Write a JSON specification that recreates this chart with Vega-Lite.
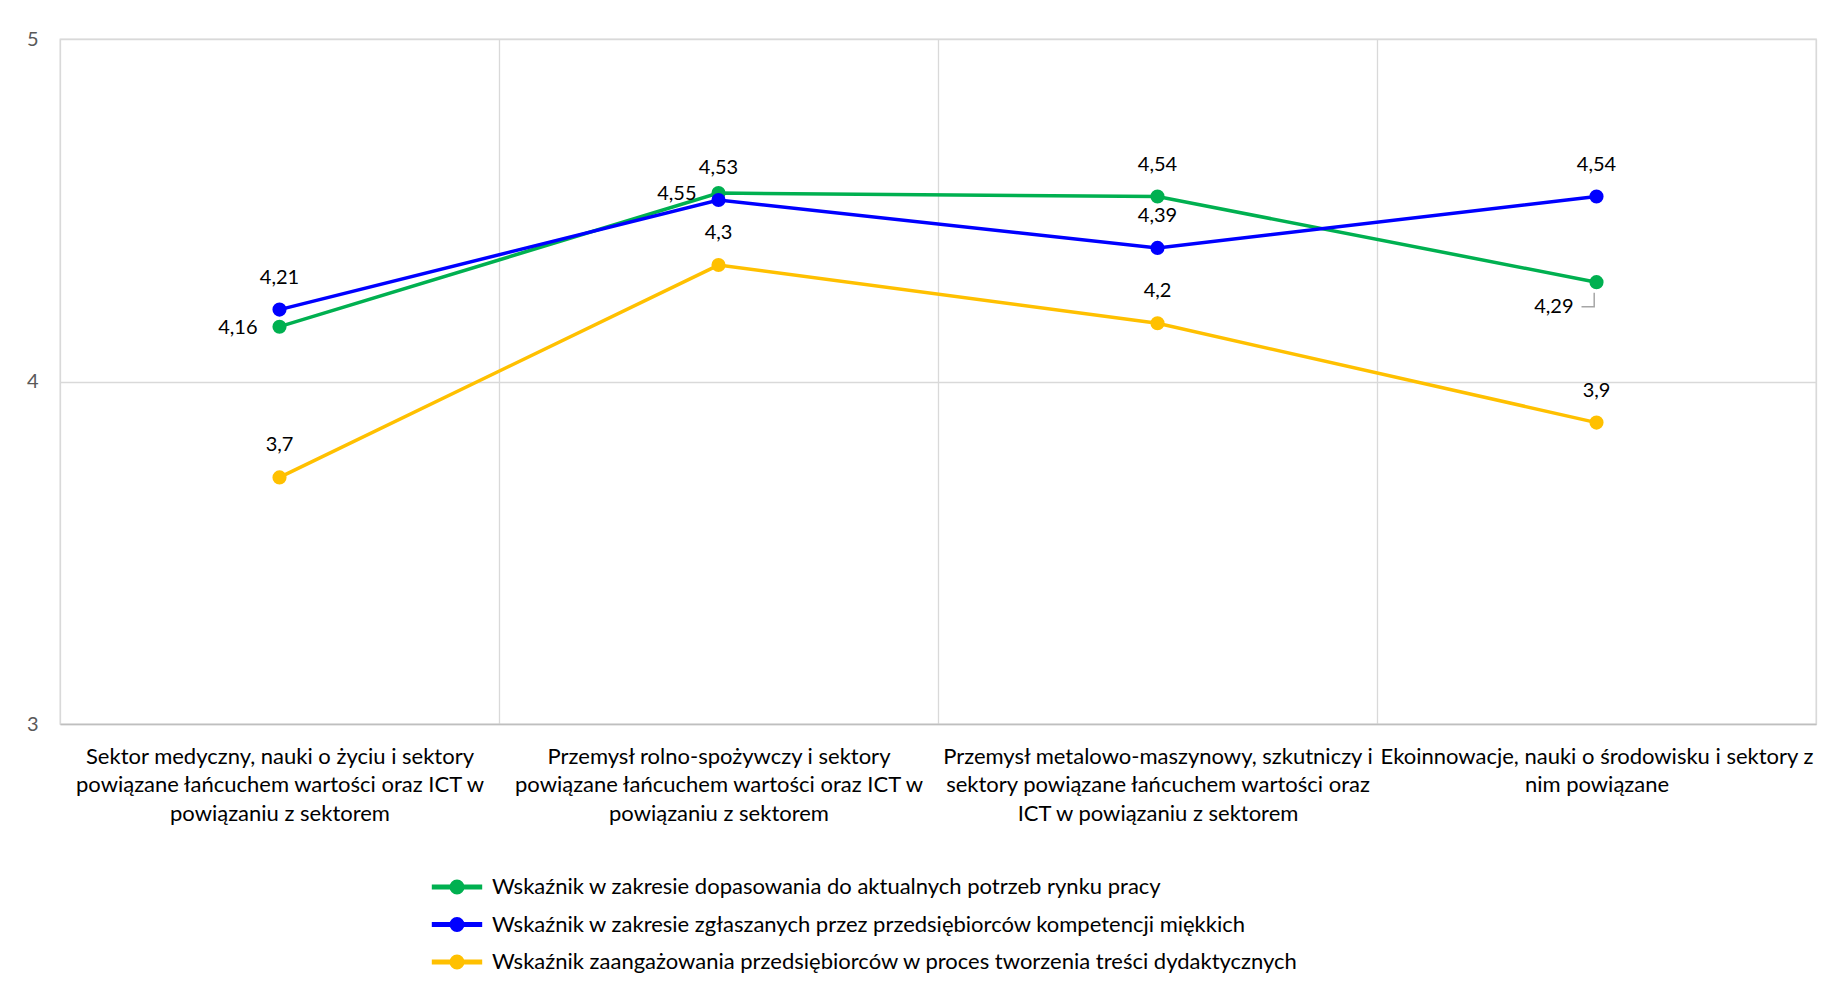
{
  "$schema": "https://vega.github.io/schema/vega-lite/v6.json",
  "width": 1756,
  "height": 685,
  "autosize": {"type": "none"},
  "padding": {"left": 60, "top": 39, "right": 13, "bottom": 261},
  "background": "white",
  "config": {"font": "Lato", "view": {"stroke": "#d9d9d9", "strokeWidth": 1.3}},
  "data": {
    "values": [
      {"sector": "Sektor medyczny, nauki o życiu i sektory powiązane łańcuchem wartości oraz ICT w powiązaniu z sektorem", "series": "Wskaźnik w zakresie dopasowania do aktualnych potrzeb rynku pracy", "value": 4.16, "label": "4,16"},
      {"sector": "Przemysł rolno-spożywczy i sektory powiązane łańcuchem wartości oraz ICT w powiązaniu z sektorem", "series": "Wskaźnik w zakresie dopasowania do aktualnych potrzeb rynku pracy", "value": 4.55, "label": "4,55"},
      {"sector": "Przemysł metalowo-maszynowy, szkutniczy i sektory powiązane łańcuchem wartości oraz ICT w powiązaniu z sektorem", "series": "Wskaźnik w zakresie dopasowania do aktualnych potrzeb rynku pracy", "value": 4.54, "label": "4,54"},
      {"sector": "Ekoinnowacje, nauki o środowisku i sektory z nim powiązane", "series": "Wskaźnik w zakresie dopasowania do aktualnych potrzeb rynku pracy", "value": 4.29, "label": "4,29"},
      {"sector": "Sektor medyczny, nauki o życiu i sektory powiązane łańcuchem wartości oraz ICT w powiązaniu z sektorem", "series": "Wskaźnik w zakresie zgłaszanych przez przedsiębiorców kompetencji miękkich", "value": 4.21, "label": "4,21"},
      {"sector": "Przemysł rolno-spożywczy i sektory powiązane łańcuchem wartości oraz ICT w powiązaniu z sektorem", "series": "Wskaźnik w zakresie zgłaszanych przez przedsiębiorców kompetencji miękkich", "value": 4.53, "label": "4,53"},
      {"sector": "Przemysł metalowo-maszynowy, szkutniczy i sektory powiązane łańcuchem wartości oraz ICT w powiązaniu z sektorem", "series": "Wskaźnik w zakresie zgłaszanych przez przedsiębiorców kompetencji miękkich", "value": 4.39, "label": "4,39"},
      {"sector": "Ekoinnowacje, nauki o środowisku i sektory z nim powiązane", "series": "Wskaźnik w zakresie zgłaszanych przez przedsiębiorców kompetencji miękkich", "value": 4.54, "label": "4,54"},
      {"sector": "Sektor medyczny, nauki o życiu i sektory powiązane łańcuchem wartości oraz ICT w powiązaniu z sektorem", "series": "Wskaźnik zaangażowania przedsiębiorców w proces tworzenia treści dydaktycznych", "value": 3.72, "label": "3,7"},
      {"sector": "Przemysł rolno-spożywczy i sektory powiązane łańcuchem wartości oraz ICT w powiązaniu z sektorem", "series": "Wskaźnik zaangażowania przedsiębiorców w proces tworzenia treści dydaktycznych", "value": 4.34, "label": "4,3"},
      {"sector": "Przemysł metalowo-maszynowy, szkutniczy i sektory powiązane łańcuchem wartości oraz ICT w powiązaniu z sektorem", "series": "Wskaźnik zaangażowania przedsiębiorców w proces tworzenia treści dydaktycznych", "value": 4.17, "label": "4,2"},
      {"sector": "Ekoinnowacje, nauki o środowisku i sektory z nim powiązane", "series": "Wskaźnik zaangażowania przedsiębiorców w proces tworzenia treści dydaktycznych", "value": 3.88, "label": "3,9"}
    ]
  },
  "encoding": {
    "x": {
      "field": "sector",
      "type": "nominal",
      "sort": null,
      "scale": {"type": "band", "paddingInner": 0, "paddingOuter": 0},
      "axis": {
        "title": null,
        "grid": true,
        "tickBand": "extent",
        "gridColor": "#d9d9d9",
        "gridWidth": 1.3,
        "ticks": false,
        "domainColor": "#bfbfbf",
        "domainWidth": 1.5,
        "labelAngle": 0,
        "labelFontSize": 22,
        "labelColor": "#000000",
        "labelLineHeight": 28.6,
        "labelPadding": 22,
        "labelBaseline": "top",
        "labelLimit": 0,
        "labelExpr": "datum.value == 'Sektor medyczny, nauki o życiu i sektory powiązane łańcuchem wartości oraz ICT w powiązaniu z sektorem' ? ['Sektor medyczny, nauki o życiu i sektory','powiązane łańcuchem wartości oraz ICT w','powiązaniu z sektorem'] : datum.value == 'Przemysł rolno-spożywczy i sektory powiązane łańcuchem wartości oraz ICT w powiązaniu z sektorem' ? ['Przemysł rolno-spożywczy i sektory','powiązane łańcuchem wartości oraz ICT w','powiązaniu z sektorem'] : datum.value == 'Przemysł metalowo-maszynowy, szkutniczy i sektory powiązane łańcuchem wartości oraz ICT w powiązaniu z sektorem' ? ['Przemysł metalowo-maszynowy, szkutniczy i','sektory powiązane łańcuchem wartości oraz','ICT w powiązaniu z sektorem'] : datum.value == 'Ekoinnowacje, nauki o środowisku i sektory z nim powiązane' ? ['Ekoinnowacje, nauki o środowisku i sektory z','nim powiązane'] : ''"
      }
    },
    "y": {
      "field": "value",
      "type": "quantitative",
      "scale": {"domain": [3, 5]},
      "axis": {
        "title": null,
        "values": [3, 4, 5],
        "labelExpr": "toString(round(datum.value))",
        "grid": true,
        "gridColor": "#d9d9d9",
        "gridWidth": 1.3,
        "domain": false,
        "ticks": false,
        "labelFontSize": 20,
        "labelColor": "#595959",
        "labelPadding": 22
      }
    }
  },
  "layer": [
    {
      "mark": {"type": "line", "strokeWidth": 3.5},
      "encoding": {
        "color": {
          "field": "series",
          "type": "nominal",
          "scale": {
            "domain": ["Wskaźnik w zakresie dopasowania do aktualnych potrzeb rynku pracy", "Wskaźnik w zakresie zgłaszanych przez przedsiębiorców kompetencji miękkich", "Wskaźnik zaangażowania przedsiębiorców w proces tworzenia treści dydaktycznych"],
            "range": ["#00B050", "#0000FF", "#FFC000"]
          },
          "legend": {
            "orient": "none",
            "legendX": 381,
            "legendY": 832,
            "title": null,
            "padding": 0,
            "labelFontSize": 22,
            "labelColor": "#000000",
            "labelLimit": 0,
            "labelOffset": 19,
            "rowPadding": 10.5,
            "symbolSize": 900,
            "symbolType": "M-1.63,-0.117H1.63V0.117H-1.63Z M0.45,0A0.45,0.45 0 1,1 -0.45,0A0.45,0.45 0 1,1 0.45,0Z"
          }
        }
      }
    },
    {
      "mark": {"type": "point", "filled": true, "size": 200, "opacity": 1},
      "encoding": {
        "color": {"field": "series", "type": "nominal"}
      }
    },
    {
      "transform": [{"filter": "indexof(datum.series,'dopasowania')<0 || indexof(datum.sector,'metalowo')>=0"}],
      "mark": {"type": "text", "fontSize": 20, "color": "#000000", "dy": -32},
      "encoding": {"text": {"field": "label"}}
    },
    {
      "transform": [{"filter": "indexof(datum.series,'dopasowania')>=0 && (indexof(datum.sector,'Sektor medyczny')==0 || indexof(datum.sector,'rolno')>=0)"}],
      "mark": {"type": "text", "fontSize": 20, "color": "#000000", "align": "right", "dx": -22, "dy": 1},
      "encoding": {"text": {"field": "label"}}
    },
    {
      "transform": [{"filter": "indexof(datum.series,'dopasowania')>=0 && indexof(datum.sector,'Ekoinnowacje')==0"}],
      "mark": {"type": "text", "fontSize": 20, "color": "#000000", "align": "right", "dx": -23, "dy": 25},
      "encoding": {"text": {"field": "label"}}
    },
    {
      "transform": [{"filter": "indexof(datum.series,'dopasowania')>=0 && indexof(datum.sector,'Ekoinnowacje')==0"}],
      "mark": {"type": "point", "filled": false, "color": "#a6a6a6", "strokeWidth": 1.5, "opacity": 1, "size": 400, "shape": "M-1.5,2.45H-0.23V1.05"},
      "encoding": {}
    }
  ]
}
